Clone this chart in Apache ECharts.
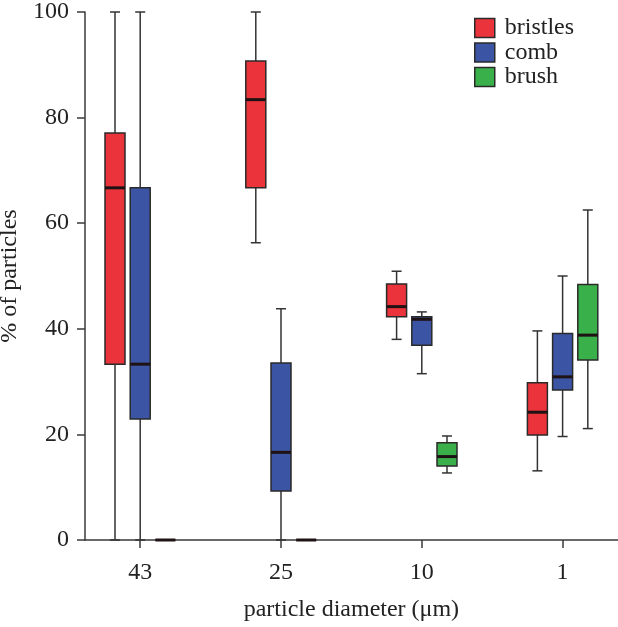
<!DOCTYPE html>
<html>
<head>
<meta charset="utf-8">
<script src="https://cdn.jsdelivr.net/npm/echarts@6/dist/echarts.min.js"></script>
<style>html,body{margin:0;padding:0;background:#fff}#c{width:618px;height:627px}</style>
</head>
<body>
<div id="c"></div>
<script>
const categories = ['43', '25', '10', '1'];
const yTicks = [0, 20, 40, 60, 80, 100];
const seriesNames = ['bristles', 'comb', 'brush'];
const seriesColors = ['#EA333B', '#3B55A4', '#3AB04A'];
// each item: [min, Q1, median, Q3, max]
const bristles = [[0, 33.3, 66.7, 77.1, 100], [56.3, 66.7, 83.4, 90.7, 100], [38.0, 42.3, 44.2, 48.5, 50.9], [13.1, 19.9, 24.2, 29.8, 39.6]];
const comb = [[0, 22.9, 33.3, 66.7, 100], [0, 9.3, 16.6, 33.5, 43.8], [31.5, 36.9, 41.8, 42.3, 43.2], [19.6, 28.4, 30.9, 39.1, 50.0]];
const brush = [[0, 0, 0, 0, 0], [0, 0, 0, 0, 0], [12.7, 14.0, 15.8, 18.4, 19.7], [21.1, 34.1, 38.8, 48.4, 62.5]];
const allSeries = [bristles, comb, brush];

const FONT = '"Liberation Serif", "Times New Roman", serif';
const AX = '#3a3a3a';

function renderBox(params, api) {
  const idx = api.value(0);
  const band = api.size([1, 0])[0];
  const off = (params.seriesIndex - 1) * band * 0.179;
  const cx = api.coord([idx, 0])[0] + off;
  const y = v => api.coord([idx, v])[1];
  const mn = api.value(1), q1 = api.value(2), md = api.value(3), q3 = api.value(4), mx = api.value(5);
  const bw = band * 0.142;
  const cap = 5;
  const color = api.visual('color');
  const ls = { stroke: '#333', lineWidth: 1.5 };
  return {
    type: 'group',
    children: [
      { type: 'line', shape: { x1: cx, y1: y(q3), x2: cx, y2: y(mx) }, style: ls },
      { type: 'line', shape: { x1: cx - cap, y1: y(mx), x2: cx + cap, y2: y(mx) }, style: ls },
      { type: 'line', shape: { x1: cx, y1: y(q1), x2: cx, y2: y(mn) }, style: ls },
      { type: 'line', shape: { x1: cx - cap, y1: y(mn), x2: cx + cap, y2: y(mn) }, style: ls },
      { type: 'rect', shape: { x: cx - bw / 2, y: y(q3), width: bw, height: y(q1) - y(q3) },
        style: { fill: color, stroke: '#2a2a2a', lineWidth: 1.5 } },
      { type: 'line', shape: { x1: cx - bw / 2, y1: y(md), x2: cx + bw / 2, y2: y(md) },
        style: { stroke: '#1e1214', lineWidth: 3 } }
    ]
  };
}

const chart = echarts.init(document.getElementById('c'));
chart.setOption({
  animation: false,
  backgroundColor: '#fff',
  grid: [
    { left: 69.8, right: -15, top: 12, bottom: 87, outerBoundsMode: 'none', containLabel: false },
    { left: 85, right: 0, top: 12, bottom: 87, outerBoundsMode: 'none', containLabel: false }
  ],
  legend: {
    orient: 'vertical', left: 474, top: 16, padding: 0, itemWidth: 20, itemHeight: 19, itemGap: 0.5,
    icon: 'rect',
    itemStyle: { borderColor: '#2a2a2a', borderWidth: 1.5 },
    textStyle: { fontFamily: FONT, fontSize: 24, color: '#222', padding: [0, 0, 0, 5], lineHeight: 24 },
    data: seriesNames.map((n, i) => ({ name: n, itemStyle: { color: seriesColors[i] } }))
  },
  xAxis: [
    {
      type: 'category', gridIndex: 0, data: categories, boundaryGap: true,
      axisLine: { show: false },
      axisTick: { show: true, alignWithLabel: true, length: 8, lineStyle: { color: AX, width: 1.5 } },
      axisLabel: { margin: 21, fontFamily: FONT, fontSize: 24, color: '#222' },
      splitLine: { show: false },
      name: 'particle diameter (μm)', nameLocation: 'middle', nameGap: 58,
      nameTextStyle: { fontFamily: FONT, fontSize: 24, color: '#222' }
    },
    {
      type: 'value', gridIndex: 1, min: 0, max: 1,
      axisLine: { show: true, onZero: false, lineStyle: { color: AX, width: 1.5 } },
      axisTick: { show: false }, axisLabel: { show: false }, splitLine: { show: false }
    }
  ],
  yAxis: [
    { type: 'value', gridIndex: 0, min: 0, max: 100, show: false, splitLine: { show: false } },
    {
      type: 'value', gridIndex: 1, min: yTicks[0], max: yTicks[yTicks.length - 1], interval: 20,
      axisLine: { show: true, onZero: false, lineStyle: { color: AX, width: 1.5 } },
      axisTick: { show: true, length: 8, lineStyle: { color: AX, width: 1.5 } },
      axisLabel: { margin: 16, fontFamily: FONT, fontSize: 24, color: '#222' },
      splitLine: { show: false },
      name: '% of particles', nameLocation: 'middle', nameGap: 57,
      nameTextStyle: { fontFamily: FONT, fontSize: 24, color: '#222' }
    }
  ],
  series: allSeries.map((arr, i) => ({
    name: seriesNames[i],
    type: 'custom',
    xAxisIndex: 0, yAxisIndex: 0,
    itemStyle: { color: seriesColors[i], borderColor: '#2a2a2a', borderWidth: 1.5 },
    encode: { x: 0, y: [1, 2, 3, 4, 5] },
    renderItem: renderBox,
    data: arr.map((v, j) => [j].concat(v))
  }))
});
</script>
</body>
</html>
